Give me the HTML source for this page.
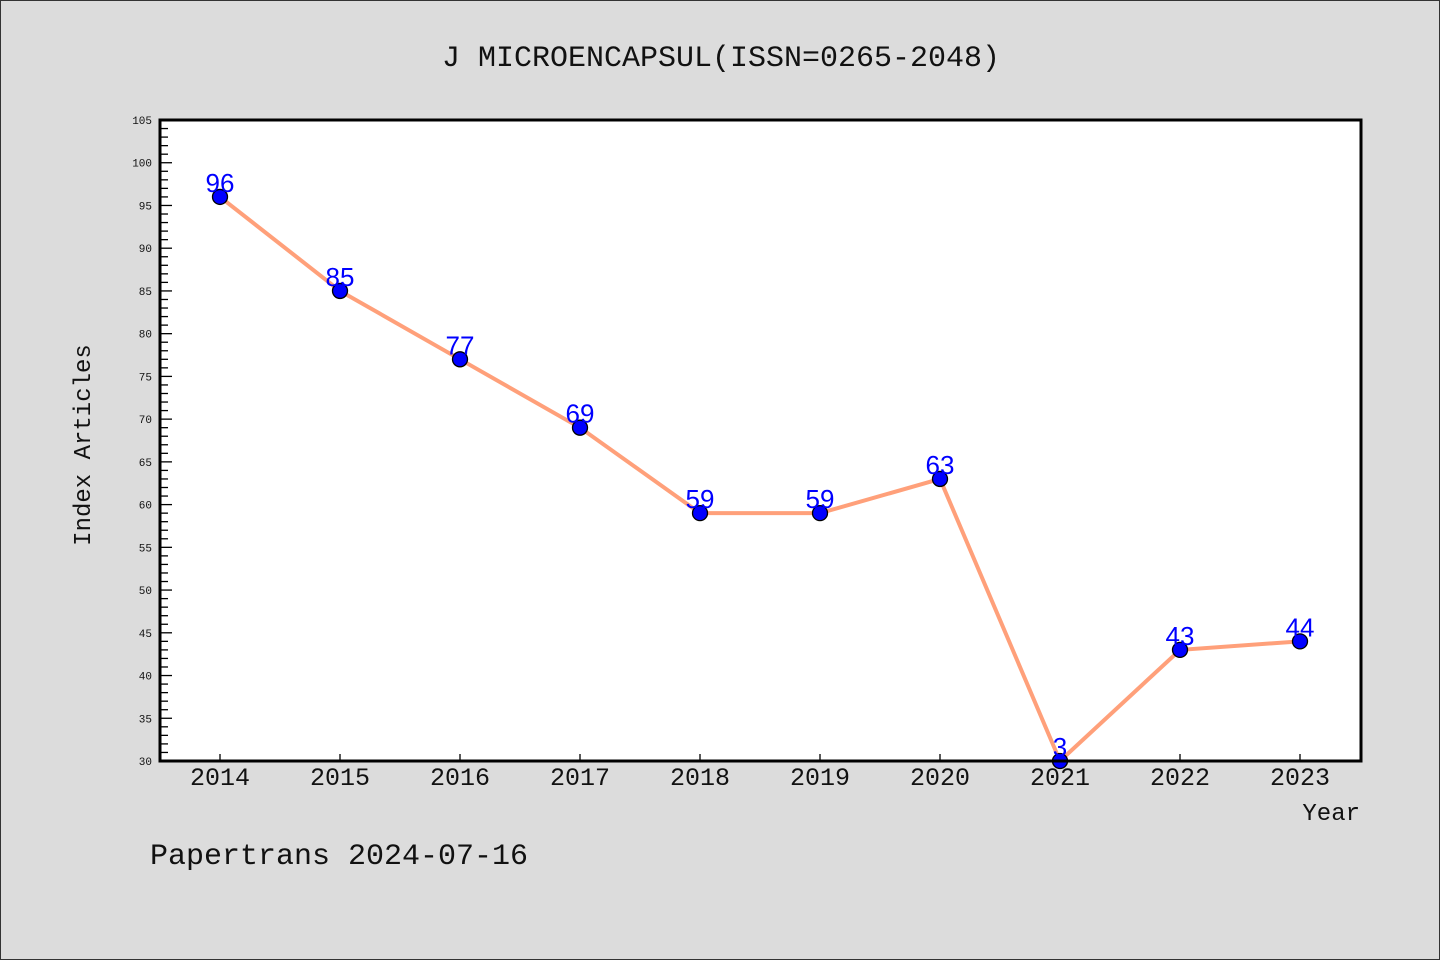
<!DOCTYPE html>
<html><head><meta charset="utf-8"><style>
html,body{margin:0;padding:0;background:#dcdcdc;}
svg{display:block;font-family:"Liberation Mono","DejaVu Sans Mono",monospace;}
</style></head><body>
<svg id="chart" width="1440" height="960" xmlns="http://www.w3.org/2000/svg">
<rect x="0.5" y="0.5" width="1439" height="959" fill="#dcdcdc" stroke="#333"/>
<text x="721" y="66" text-anchor="middle" font-size="30" fill="#111">J MICROENCAPSUL(ISSN=0265-2048)</text>
<rect x="160" y="120" width="1201" height="641" fill="#fff"/>
<g id="yaxis"></g>
<g id="xaxis"></g>
<g id="series"></g>
<rect x="160" y="120" width="1201" height="641" fill="none" stroke="#000" stroke-width="3"/>
<text x="90" y="445" text-anchor="middle" font-size="24" fill="#111" transform="rotate(-90 90 445)">Index Articles</text>
<text x="1360" y="820" text-anchor="end" font-size="24" fill="#111">Year</text>
<text x="150" y="864" font-size="30" fill="#111">Papertrans 2024-07-16</text>
</svg>
<script>
const years = ["2014","2015","2016","2017","2018","2019","2020","2021","2022","2023"];
const values = [96,85,77,69,59,59,63,3,43,44];
const yTicks = [30,35,40,45,50,55,60,65,70,75,80,85,90,95,100,105];
(function(){
const NS="http://www.w3.org/2000/svg";
const yMin=30,yMax=105,pTop=120,pBot=761,pLeft=160;
function ys(v){return pBot-(Math.max(v,yMin)-yMin)/(yMax-yMin)*(pBot-pTop);}
function xs(i){return 220+i*120;}
function mk(t,a,p){const e=document.createElementNS(NS,t);for(const k in a)e.setAttribute(k,a[k]);p.appendChild(e);return e;}
const ya=document.getElementById('yaxis');
for(let v=yMin;v<=yMax;v++){
  const major=v%5===0;
  const l=mk('line',{x1:pLeft,x2:pLeft+(major?12:8),y1:ys(v),y2:ys(v),stroke:'#000','stroke-width':1.3},ya);
  
  
}
yTicks.forEach(v=>{
  const t=mk('text',{x:152,y:ys(v)+4,'text-anchor':'end','font-size':11,fill:'#111'},ya);
  t.textContent=v;
  
  
});
const xa=document.getElementById('xaxis');
years.forEach((y,i)=>{
  const l=mk('line',{x1:xs(i),x2:xs(i),y1:pBot,y2:pBot-7,stroke:'#000','stroke-width':1.3},xa);
  
  
  const t=mk('text',{x:xs(i),y:785,'text-anchor':'middle','font-size':25,fill:'#111'},xa);
  t.textContent=y;
  
  
});
const s=document.getElementById('series');
const pl=mk('polyline',{points:values.map((v,i)=>xs(i)+','+ys(v)).join(' '),fill:'none',stroke:'#ffa07a','stroke-width':4},s);


values.forEach((v,i)=>{
  const c=mk('circle',{cx:xs(i),cy:ys(v),r:7.5,fill:'#0000ff',stroke:'#000','stroke-width':1.3},s);
  
  
  const t=mk('text',{x:xs(i),y:ys(v)-5,'text-anchor':'middle','font-size':26,fill:'#0000ff','font-family':'Liberation Sans, sans-serif'},s);
  t.textContent=v;
  
  
});
})();
</script>
</body></html>
